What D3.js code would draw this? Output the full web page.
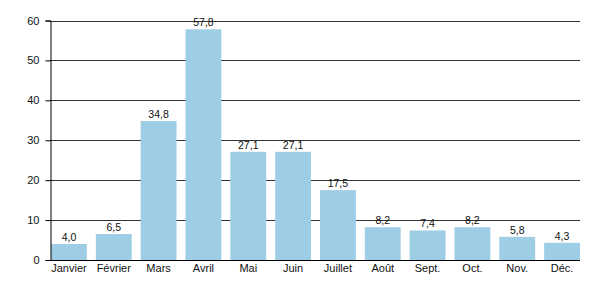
<!DOCTYPE html>
<html>
<head>
<meta charset="utf-8">
<script src="https://cdn.jsdelivr.net/npm/d3@7"></script>
<style>
  body { margin: 0; background: #fff; }
  svg text { font-family: "Liberation Sans", Arial, sans-serif; fill: #111; }
</style>
</head>
<body>
<div id="chart"></div>
<script>
// Monthly values
var months = ['Janvier', 'Février', 'Mars', 'Avril', 'Mai', 'Juin', 'Juillet', 'Août', 'Sept.', 'Oct.', 'Nov.', 'Déc.'];
var values = [4.0, 6.5, 34.8, 57.8, 27.1, 27.1, 17.5, 8.2, 7.4, 8.2, 5.8, 4.3];
var yTicks = [0, 10, 20, 30, 40, 50, 60];

var width = 600, height = 300;
var plotLeft = 51, plotRight = 580, plotTop = 20.5, plotBottom = 260;

var svg = d3.select('#chart').append('svg')
    .attr('width', width)
    .attr('height', height);

var x = d3.scaleBand()
    .domain(months)
    .range([plotLeft, plotRight])
    .paddingInner(0.2)
    .paddingOuter(0);

var y = d3.scaleLinear()
    .domain([0, 60])
    .range([plotBottom, plotTop]);

// Gridlines
svg.selectAll('.grid')
    .data(yTicks)
    .enter()
    .append('line')
    .attr('x1', 50)
    .attr('x2', plotRight)
    .attr('y1', function(d) { return Math.round(y(d)) + 0.5; })
    .attr('y2', function(d) { return Math.round(y(d)) + 0.5; })
    .attr('stroke', '#333')
    .attr('stroke-width', 1);

// Bars
svg.selectAll('.bar')
    .data(values)
    .enter()
    .append('rect')
    .attr('x', function(d, i) { return x(months[i]); })
    .attr('width', x.bandwidth())
    .attr('y', function(d) { return y(d); })
    .attr('height', function(d) { return plotBottom - y(d); })
    .attr('fill', '#9ecde6');

// Value labels
svg.selectAll('.val')
    .data(values)
    .enter()
    .append('text')
    .attr('x', function(d, i) { return x(months[i]) + x.bandwidth() / 2; })
    .attr('y', function(d) { return y(d) - 3; })
    .attr('text-anchor', 'middle')
    .style('font-size', '10.5px')
    .text(function(d) { return d.toFixed(1).replace('.', ','); });

// Y axis
var yAxis = svg.append('g')
    .attr('transform', 'translate(50.5,0)')
    .call(d3.axisLeft(y).tickValues(yTicks).tickSize(5).tickPadding(6));
yAxis.select('.domain').attr('stroke', '#000');
yAxis.selectAll('line').attr('stroke', '#000');
yAxis.selectAll('text').style('font-size', '11px');

// X axis
var xAxis = svg.append('g')
    .attr('transform', 'translate(0,' + (plotBottom + 0.5) + ')')
    .call(d3.axisBottom(x).tickSize(0).tickPadding(4));
xAxis.select('.domain').attr('stroke', '#000').attr('d', 'M50,0H' + plotRight);
xAxis.selectAll('text').style('font-size', '11px');
</script>
</body>
</html>
